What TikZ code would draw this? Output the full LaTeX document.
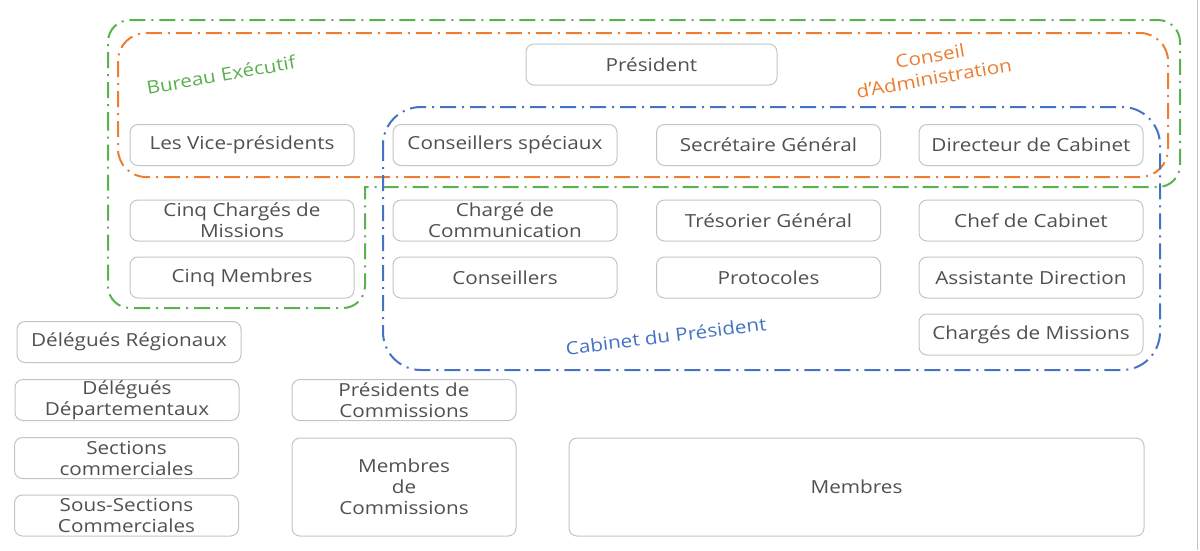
\documentclass[tikz,border=0pt]{standalone}
\usepackage{fontspec}
\setmainfont[FakeStretch=1.15]{Open Sans}
\definecolor{grn}{HTML}{5BB04F}
\definecolor{org}{HTML}{ED7D31}
\definecolor{blu}{HTML}{4472C4}
\definecolor{txtgray}{HTML}{505050}
\definecolor{boxgray}{HTML}{C4C4C4}
\begin{document}
\begin{tikzpicture}[x=1pt,y=-1pt,
  box/.style={draw=boxgray, rounded corners=8pt, line width=1pt, text=txtgray,
    align=center, minimum width=224pt, minimum height=41pt, inner sep=0pt,
    font=\fontsize{18}{21}\selectfont},
  grp/.style={line width=2pt, dash pattern=on 16pt off 6pt on 2pt off 6pt},
  lbl/.style={font=\fontsize{18}{22}\selectfont, align=center, inner sep=0pt}]
\useasboundingbox (0,0) rectangle (1200,550);
% group outlines
\draw[grp, draw=grn] (108,150) [rounded corners=22pt]-- (108,20) -- (1180,20) -- (1180,187) [sharp corners]-- (365,187) [rounded corners=22pt]-- (365,308) -- (108,308) -- cycle;
\draw[grp, draw=org, rounded corners=28pt] (118,33) rectangle (1168,177);
\draw[grp, draw=blu, rounded corners=38pt] (383,107) rectangle (1160,370);
% labels
\node[lbl, text=grn, rotate=10] (lbe) at (221,75) {Bureau Exécutif};
\node[lbl, text=org, rotate=10] (lca) at (932,67) {Conseil\\d’Administration};
\node[lbl, text=blu, rotate=7] (lcp) at (666,336) {Cabinet du Président};
% boxes
\node[box, minimum width=251pt] (pres) at (651.5,64.5) {Président};
\node[box] (vp) at (242,145) {Les Vice-présidents};
\node[box] (cs) at (505,145) {Conseillers spéciaux};
\node[box] (sg) at (768.5,145) {Secrétaire Général};
\node[box] (dc) at (1031,145) {Directeur de Cabinet};
\node[box] (ccm) at (242,220.5) {Cinq Chargés de\\Missions};
\node[box] (cc) at (505,220.5) {Chargé de\\Communication};
\node[box] (tg) at (768.5,220.5) {Trésorier Général};
\node[box] (chc) at (1031,220.5) {Chef de Cabinet};
\node[box] (cm) at (242,277.5) {Cinq Membres};
\node[box] (cons) at (505,277.5) {Conseillers};
\node[box] (prot) at (768.5,277.5) {Protocoles};
\node[box] (ad) at (1031,277.5) {Assistante Direction};
\node[box] (chm) at (1031,334.5) {Chargés de Missions};
\node[box] (dr) at (129,342) {Délégués Régionaux};
\node[box] (dd) at (127,400) {Délégués\\Départementaux};
\node[box] (sc) at (126.5,458) {Sections\\commerciales};
\node[box] (ssc) at (126.5,515.5) {Sous-Sections\\Commerciales};
\node[box] (pc) at (404,400) {Présidents de\\Commissions};
\node[box, minimum height=98pt] (mc) at (404,487) {Membres\\de\\Commissions};
\node[box, minimum width=575pt, minimum height=98pt] (mb) at (856.5,487) {Membres};
% right page edge
\draw[boxgray, line width=1pt] (1197,0) -- (1197,550);
\end{tikzpicture}
\end{document}
